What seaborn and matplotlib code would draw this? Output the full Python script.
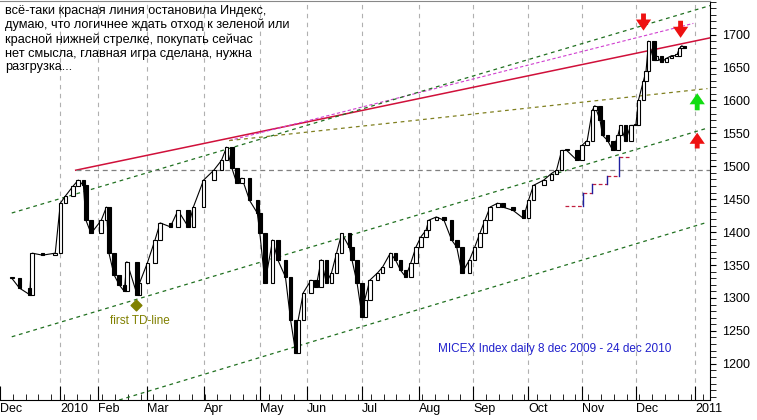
import numpy as np
import pandas as pd
import seaborn as sns
import matplotlib
matplotlib.use("Agg")
import matplotlib.pyplot as plt

plt.rcParams["font.family"] = "Liberation Sans"

days = [0,3,7,8,12,17,19,21,24,26,28,29,31,35,37,38,40,42,44,45,49,50,53,56,58,62,65,69,71,75,
        79,82,84,86,88,90,93,96,97,99,102,104,107,109,111,112,114,117,119,121,123,125,127,129,132,133,135,137,138,140,
        143,145,148,150,152,154,156,158,160,162,163,166,169,172,174,176,179,181,183,185,187,190,192,196,200,202,204,208,211,213,
        215,217,221,223,225,227,228,230,231,233,235,237,238,240,242,244,245,247,248,249,251,252,254,256,258,260,261,262,263]
closes = [1330,1315,1305,1368,1365,1368,1444,1455,1470,1479,1471,1418,1398,1418,1438,1368,1335,1320,1310,1355,1305,1323,1353,1388,1414,1408,1433,1408,1438,1479,
          1494,1509,1529,1498,1474,1482,1448,1429,1398,1323,1388,1358,1332,1267,1217,1267,1308,1327,1317,1358,1323,1338,1368,1398,1377,1358,1323,1271,1297,1327,
          1338,1347,1368,1358,1342,1332,1353,1377,1393,1403,1418,1423,1418,1388,1377,1338,1358,1377,1398,1418,1438,1444,1438,1433,1421,1448,1471,1479,1489,1494,
          1524,1524,1509,1532,1539,1585,1592,1570,1547,1539,1524,1547,1562,1539,1562,1562,1600,1630,1645,1690,1661,1668,1658,1664,1668,1668,1679,1683,1680]

month_pos = [-4.6,18.8,33.8,52.7,75,96.9,115.4,136.9,159.2,180.4,201.9,223,244.2,267.3]
month_lab = ["Dec","2010","Feb","Mar","Apr","May","Jun","Jul","Aug","Sep","Oct","Nov","Dec","2011"]

df = pd.DataFrame({"day": days, "close": closes})
df["open"] = df["close"].shift(1).fillna(df["close"])

fig = plt.figure(figsize=(7.57, 4.2), dpi=100)
ax = fig.add_axes([0, 20/420, 710/757, 1 - 21/420])

for m in month_pos[1:]:
    ax.axvline(m, color="#b0b0b0", ls=(0, (4, 4)), lw=0.8, zorder=0)

sns.lineplot(data=df, x="day", y="close", color="black", lw=0.8, ax=ax, zorder=3)
up = df["close"] >= df["open"]
h = (df["close"] - df["open"]).abs().clip(lower=2)
bot = np.minimum(df["close"], df["open"])
ax.bar(df["day"][up], h[up], bottom=bot[up], width=1.4, color="white", edgecolor="black", lw=0.8, zorder=4)
ax.bar(df["day"][~up], h[~up], bottom=bot[~up], width=1.4, color="black", edgecolor="black", lw=0.8, zorder=4)

ax.plot([25, 273], [1494, 1695], color="#d0103a", lw=1.1)
ax.plot([85, 266.5], [1539, 1717], color="#d040d0", lw=0.8, ls=(0, (3, 2)))
ax.plot([0, 273], [1429, 1744], color="#207020", lw=0.9, ls=(0, (3, 3)))
ax.plot([0, 272], [1241, 1558], color="#207020", lw=0.9, ls=(0, (3, 3)))
ax.plot([42, 272], [1145, 1415], color="#207020", lw=0.9, ls=(0, (3, 3)))
ax.plot([85, 272], [1539, 1618], color="#808020", lw=0.9, ls=(0, (3, 3)))
ax.plot([25, 273], [1494, 1494], color="#808080", lw=0.9, ls=(0, (4, 3)))

steps = [(216.5, 223.5, 1440), (223.5, 227, 1460), (227, 232.7, 1473), (232.7, 237.3, 1485), (237.3, 242.3, 1514)]
for i, (a, b, v) in enumerate(steps):
    ax.plot([a, b], [v, v], color="#c02040", lw=0.9, ls=(0, (3, 2)))
    if i > 0:
        ax.plot([a, a], [steps[i-1][2], v], color="#2020a0", lw=1.0)

def arrow(x, y0, y1, c):
    ax.annotate("", xy=(x, y1), xytext=(x, y0),
                arrowprops=dict(width=3.5, headwidth=11, headlength=8, color=c, lw=0))
arrow(247, 1732, 1706, "#ee1111")
arrow(261.5, 1721, 1695, "#ee1111")
arrow(268, 1585, 1611, "#11dd11")
arrow(268, 1527, 1551, "#ee1111")

ax.scatter([48.5], [1290], marker="D", s=30, color="#808000", zorder=5)
ax.text(50, 1265, "first TD-line", color="#808000", fontsize=8.5, ha="center", va="center")
ax.text(166.5, 1222, "MICEX Index daily 8 dec 2009 - 24 dec 2010", color="#2020cc", fontsize=8.5, va="center")
fig.text(5/757, 1 - 5/420, "всё-таки красная линия остановила Индекс,\nдумаю, что логичнее ждать отход к зеленой или\nкрасной нижней стрелке, покупать сейчас\nнет смысла, главная игра сделана, нужна\nразгрузка...",
         fontsize=9.2, va="top", ha="left", linespacing=1.2)

ax.set_xlim(0, 273)
ax.set_ylim(1145, 1751)
ax.set_xticks(month_pos)
ax.set_xticklabels(month_lab, ha="left", fontsize=9)
ax.set_xticks(np.arange(-4.6, 273, 5), minor=True)
ax.tick_params(axis="x", which="both", direction="in", length=4, pad=2)
ax.tick_params(axis="x", which="major", length=10)
ax.yaxis.tick_right()
ax.set_yticks(range(1200, 1701, 50))
ax.set_yticks(range(1150, 1751, 10), minor=True)
ax.tick_params(axis="y", which="both", direction="out", labelsize=9, length=4, pad=5)
ax.set_xlabel(""); ax.set_ylabel("")
ax.spines["left"].set_visible(False)
ax.spines["top"].set_color("#888888")
fig.savefig("out.png", dpi=100)
